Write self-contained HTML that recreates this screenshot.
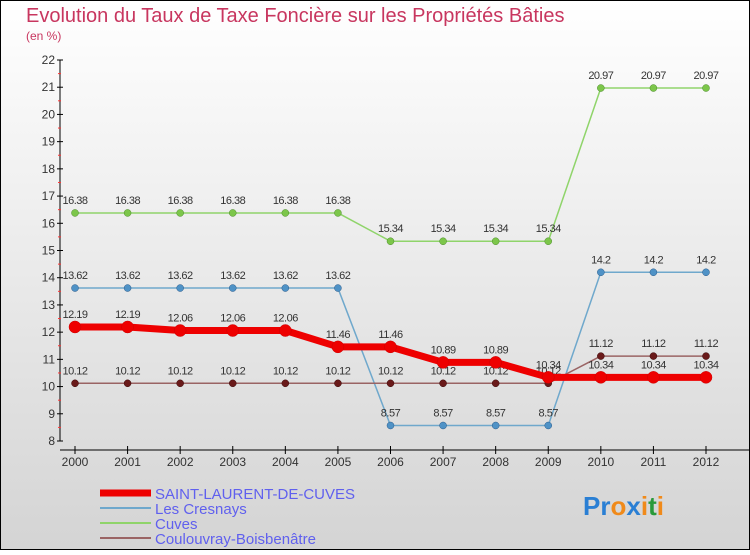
<!DOCTYPE html>
<html><head><meta charset="utf-8"><style>
body{margin:0}
#c{width:750px;height:550px;position:relative;font-family:"Liberation Sans",sans-serif}
</style></head><body>
<div id="c">
<svg id="s" width="750" height="550" xmlns="http://www.w3.org/2000/svg">
<defs><linearGradient id="bg" x1="0" y1="0" x2="0" y2="1"><stop offset="0" stop-color="#ffffff"/><stop offset="1" stop-color="#d4d4d4"/></linearGradient></defs>
<rect x="0.5" y="0.5" width="749" height="549" fill="url(#bg)" stroke="#000"/>
<text x="26" y="22" font-size="20" fill="#c8365f">Evolution du Taux de Taxe Foncière sur les Propriétés Bâties</text>
<text x="26" y="40" font-size="12" fill="#c8365f">(en %)</text>
<g id="axes"></g><g id="series"></g>
<g>
<line x1="100" y1="493" x2="151" y2="493" stroke="#ee0000" stroke-width="7"/>
<text x="155" y="499" font-size="15" fill="#6060ee">SAINT-LAURENT-DE-CUVES</text>
<line x1="100" y1="508" x2="151" y2="508" stroke="#6fa8cc" stroke-width="2"/>
<text x="155" y="514" font-size="15" fill="#6060ee">Les Cresnays</text>
<line x1="100" y1="523" x2="151" y2="523" stroke="#8fd46a" stroke-width="2"/>
<text x="155" y="529" font-size="15" fill="#6060ee">Cuves</text>
<line x1="100" y1="538" x2="151" y2="538" stroke="#9a6464" stroke-width="2"/>
<text x="155" y="544" font-size="15" fill="#6060ee">Coulouvray-Boisbenâtre</text>
</g>
<g font-size="26" font-weight="bold">
<text x="583" y="515"><tspan fill="#2a7fd4">Pr</tspan><tspan fill="#f08a1a">o</tspan><tspan fill="#2a7fd4">x</tspan><tspan fill="#f08a1a">i</tspan><tspan fill="#2a9a3a">t</tspan><tspan fill="#f08a1a">i</tspan></text>
</g>
</svg></div>
<script>
const years=[2000,2001,2002,2003,2004,2005,2006,2007,2008,2009,2010,2011,2012];
const saintLaurent=[12.19,12.19,12.06,12.06,12.06,11.46,11.46,10.89,10.89,10.34,10.34,10.34,10.34];
const lesCresnays=[13.62,13.62,13.62,13.62,13.62,13.62,8.57,8.57,8.57,8.57,14.2,14.2,14.2];
const cuves=[16.38,16.38,16.38,16.38,16.38,16.38,15.34,15.34,15.34,15.34,20.97,20.97,20.97];
const coulouvray=[10.12,10.12,10.12,10.12,10.12,10.12,10.12,10.12,10.12,10.12,11.12,11.12,11.12];
const yTicks=[8,9,10,11,12,13,14,15,16,17,18,19,20,21,22];
const NS="http://www.w3.org/2000/svg";
const X=i=>75+i*(706-75)/(years.length-1);
const Y=v=>441-(v-8)*(441-60)/14;
function mk(t,a,p){const e=document.createElementNS(NS,t);for(const k in a)e.setAttribute(k,a[k]);p.appendChild(e);return e;}
const ax=document.getElementById('axes');
let e=mk('line',{x1:60,y1:Y(22),x2:60,y2:Y(8),stroke:'#000'},ax);


yTicks.forEach(v=>{
 mk('line',{x1:57,y1:Y(v),x2:63,y2:Y(v),stroke:'#000'},ax);
 if(v<22) mk('line',{x1:58,y1:Y(v+0.5),x2:61,y2:Y(v+0.5),stroke:'#f33'},ax);
 const t=mk('text',{x:55,y:Y(v)+4,'font-size':12,'text-anchor':'end',fill:'#333'},ax);t.textContent=v;
 
 
});
e=mk('line',{x1:60,y1:450,x2:750,y2:450,stroke:'#000'},ax);


years.forEach((y,i)=>{
 mk('line',{x1:X(i),y1:446,x2:X(i),y2:454,stroke:'#000'},ax);
 const t=mk('text',{x:X(i),y:466,'font-size':12,'text-anchor':'middle',fill:'#333'},ax);t.textContent=y;
 
 
});
const sg=document.getElementById('series');
function series(vals,name,col,w,r,dot,stroke){
 const g=mk('g',{},sg);
 
 
 mk('polyline',{points:vals.map((v,i)=>X(i)+','+Y(v)).join(' '),fill:'none',stroke:col,'stroke-width':w,'stroke-linejoin':'round'},g);
 vals.forEach((v,i)=>{
  const c=mk('circle',{cx:X(i),cy:Y(v),r:r,fill:dot,stroke:stroke,'stroke-width':0.5},g);
  
  
  const t=mk('text',{x:X(i),y:Y(v)-9,'font-size':11,'text-anchor':'middle',fill:'#333','letter-spacing':'-0.5'},g);t.textContent=v;
  
  
 });
}
series(cuves,'series-cuves','#8fd46a',1.5,3.5,'#7cc64a','#4a8a2a');
series(lesCresnays,'series-les-cresnays','#6fa8cc',1.5,3.5,'#4f92c6','#2a5a8a');
series(coulouvray,'series-coulouvray','#9a6464',1.5,3.5,'#6a1a1a','#3a0a0a');
series(saintLaurent,'series-saint-laurent','#ee0000',7,6,'#ee0000','#cc0000');
</script>
</body></html>
